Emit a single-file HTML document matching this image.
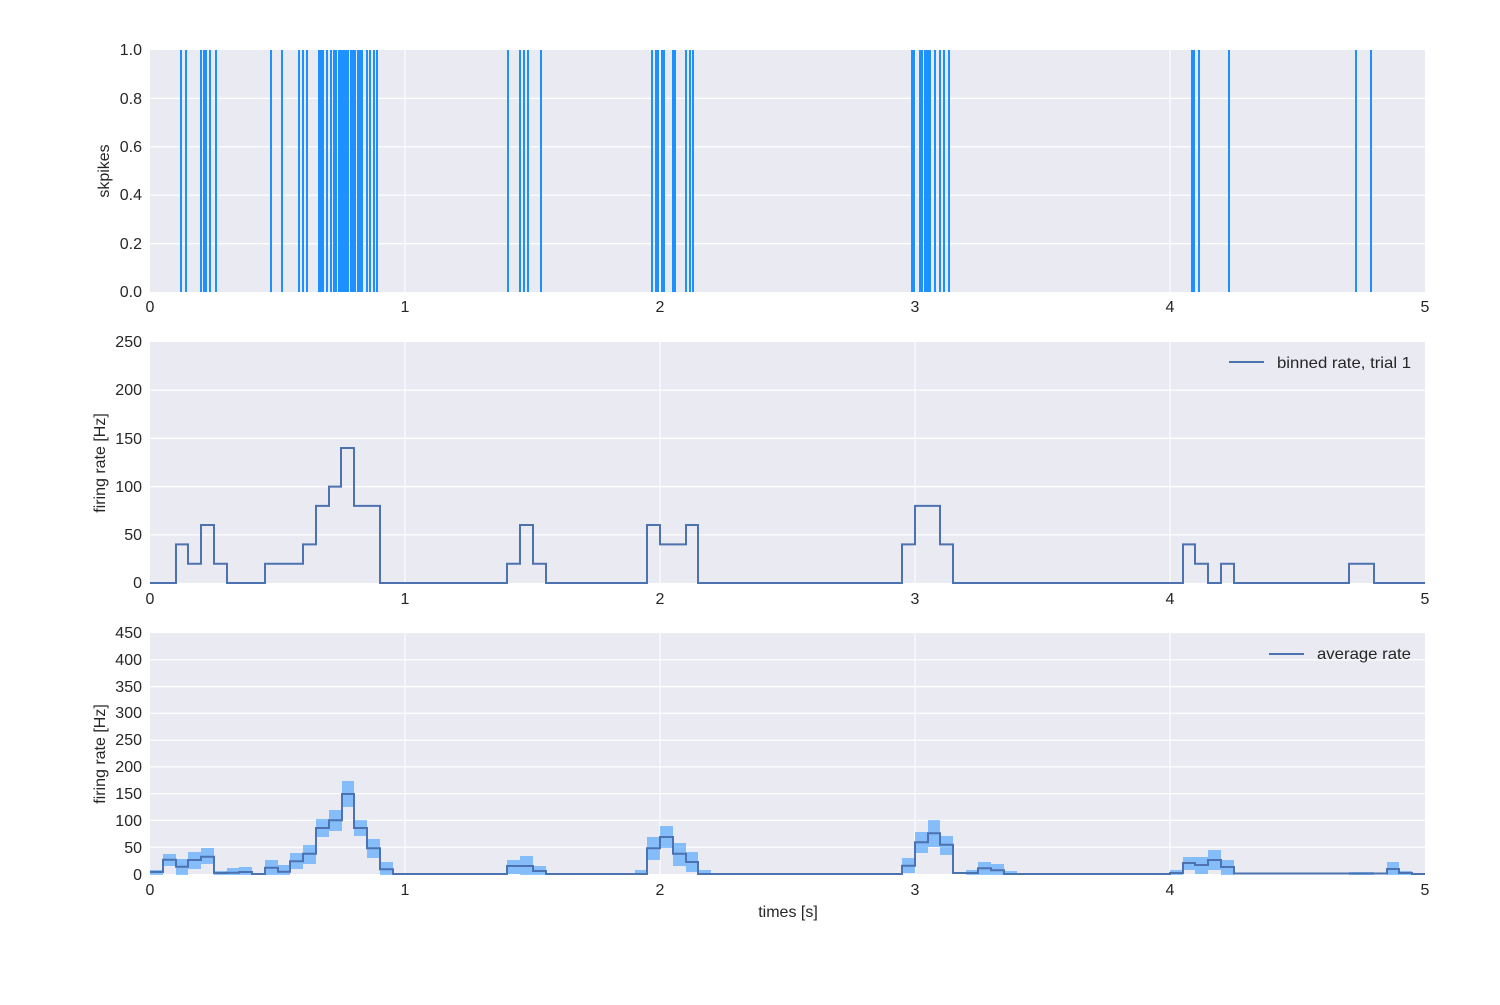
<!DOCTYPE html>
<html><head><meta charset="utf-8"><style>
body{margin:0;background:#fff}
svg text{font-family:"Liberation Sans",sans-serif;fill:#262626}
</style></head><body>
<svg width="1500" height="1000" viewBox="0 0 1500 1000" xmlns="http://www.w3.org/2000/svg">
<rect width="1500" height="1000" fill="#fff"/>
<!-- Panel 1 -->
<rect x="150" y="50" width="1275" height="242" fill="#eaeaf2"/>
<g stroke="#fff" stroke-width="1.2">
<line x1="150" x2="1425" y1="98.4" y2="98.4"/><line x1="150" x2="1425" y1="146.8" y2="146.8"/><line x1="150" x2="1425" y1="195.2" y2="195.2"/><line x1="150" x2="1425" y1="243.6" y2="243.6"/>
<line x1="405" x2="405" y1="50" y2="292"/><line x1="660" x2="660" y1="50" y2="292"/><line x1="915" x2="915" y1="50" y2="292"/><line x1="1170" x2="1170" y1="50" y2="292"/>
</g>
<g fill="#1e90ff">
<rect x="180" y="50" width="2" height="242"/><rect x="185" y="50" width="2" height="242"/>
<rect x="200" y="50" width="2" height="242"/><rect x="203" y="50" width="4" height="242"/><rect x="209" y="50" width="2" height="242"/><rect x="215" y="50" width="2" height="242"/>
<rect x="270" y="50" width="2" height="242"/><rect x="281" y="50" width="2" height="242"/><rect x="298" y="50" width="2" height="242"/><rect x="302" y="50" width="2" height="242"/><rect x="306" y="50" width="2" height="242"/>
<rect x="318" y="50" width="6" height="242"/><rect x="326" y="50" width="2" height="242"/><rect x="330" y="50" width="2" height="242"/><rect x="333" y="50" width="4" height="242"/><rect x="338" y="50" width="11" height="242"/><rect x="350" y="50" width="6" height="242"/><rect x="357" y="50" width="6" height="242"/><rect x="366" y="50" width="2" height="242"/><rect x="369" y="50" width="2" height="242"/><rect x="373" y="50" width="2" height="242"/><rect x="376" y="50" width="2" height="242"/>
<rect x="507" y="50" width="2" height="242"/><rect x="519" y="50" width="2" height="242"/><rect x="523" y="50" width="2" height="242"/><rect x="527" y="50" width="2" height="242"/><rect x="540" y="50" width="2" height="242"/>
<rect x="651" y="50" width="2" height="242"/><rect x="655" y="50" width="4" height="242"/><rect x="661" y="50" width="4" height="242"/><rect x="672" y="50" width="4" height="242"/><rect x="685" y="50" width="2" height="242"/><rect x="689" y="50" width="2" height="242"/><rect x="692" y="50" width="2" height="242"/>
<rect x="911" y="50" width="4" height="242"/><rect x="919" y="50" width="4" height="242"/><rect x="924" y="50" width="7" height="242"/><rect x="934" y="50" width="2" height="242"/><rect x="939" y="50" width="2" height="242"/><rect x="943" y="50" width="2" height="242"/><rect x="948" y="50" width="2" height="242"/>
<rect x="1191" y="50" width="4" height="242"/><rect x="1198" y="50" width="2" height="242"/><rect x="1228" y="50" width="2" height="242"/><rect x="1355" y="50" width="2" height="242"/><rect x="1370" y="50" width="2" height="242"/>
</g>
<g font-size="16" text-anchor="end">
<text x="142" y="55">1.0</text><text x="142" y="104">0.8</text><text x="142" y="152">0.6</text><text x="142" y="200">0.4</text><text x="142" y="249">0.2</text><text x="142" y="297">0.0</text>
</g>
<g font-size="16" text-anchor="middle">
<text x="150" y="312">0</text><text x="405" y="312">1</text><text x="660" y="312">2</text><text x="915" y="312">3</text><text x="1170" y="312">4</text><text x="1425" y="312">5</text>
</g>
<text font-size="16" transform="translate(109,171) rotate(-90)" text-anchor="middle">skpikes</text>

<!-- Panel 2 -->
<rect x="150" y="342" width="1275" height="241" fill="#eaeaf2"/>
<g stroke="#fff" stroke-width="1.2">
<line x1="150" x2="1425" y1="390.2" y2="390.2"/><line x1="150" x2="1425" y1="438.4" y2="438.4"/><line x1="150" x2="1425" y1="486.6" y2="486.6"/><line x1="150" x2="1425" y1="534.8" y2="534.8"/>
<line x1="405" x2="405" y1="342" y2="583"/><line x1="660" x2="660" y1="342" y2="583"/><line x1="915" x2="915" y1="342" y2="583"/><line x1="1170" x2="1170" y1="342" y2="583"/>
</g>
<path fill="none" stroke="#4c72b0" stroke-width="2" d="M150,583 H176 V544.4 H188 V563.7 H201 V525 H214 V563.7 H227 V583 H265 V563.7 H303 V544.4 H316 V505.9 H329 V486.6 H341 V448 H354 V505.9 H380 V583 H507 V563.7 H520 V525 H533 V563.7 H546 V583 H647 V525 H660 V544.4 H686 V525 H698 V583 H902 V544.4 H915 V505.9 H940 V544.4 H953 V583 H1183 V544.4 H1195 V563.7 H1208 V583 H1221 V563.7 H1234 V583 H1349 V563.7 H1374 V583 H1425"/>
<line x1="1229" x2="1264" y1="362" y2="362" stroke="#4c72b0" stroke-width="2"/>
<text x="1277" y="368" font-size="16" textLength="134" lengthAdjust="spacingAndGlyphs">binned rate, trial 1</text>
<g font-size="16" text-anchor="end">
<text x="142" y="347">250</text><text x="142" y="395">200</text><text x="142" y="444">150</text><text x="142" y="492">100</text><text x="142" y="540">50</text><text x="142" y="588">0</text>
</g>
<g font-size="16" text-anchor="middle">
<text x="150" y="604">0</text><text x="405" y="604">1</text><text x="660" y="604">2</text><text x="915" y="604">3</text><text x="1170" y="604">4</text><text x="1425" y="604">5</text>
</g>
<text font-size="16" transform="translate(105,463) rotate(-90)" text-anchor="middle">firing rate [Hz]</text>

<!-- Panel 3 -->
<rect x="150" y="633" width="1275" height="241" fill="#eaeaf2"/>
<g stroke="#fff" stroke-width="1.2">
<line x1="150" x2="1425" y1="659.8" y2="659.8"/><line x1="150" x2="1425" y1="686.6" y2="686.6"/><line x1="150" x2="1425" y1="713.3" y2="713.3"/><line x1="150" x2="1425" y1="740.1" y2="740.1"/><line x1="150" x2="1425" y1="766.9" y2="766.9"/><line x1="150" x2="1425" y1="793.7" y2="793.7"/><line x1="150" x2="1425" y1="820.4" y2="820.4"/><line x1="150" x2="1425" y1="847.2" y2="847.2"/>
<line x1="405" x2="405" y1="633" y2="874"/><line x1="660" x2="660" y1="633" y2="874"/><line x1="915" x2="915" y1="633" y2="874"/><line x1="1170" x2="1170" y1="633" y2="874"/>
</g>
<g fill="#1e90ff" fill-opacity="0.5">
<rect x="150" y="870" width="13" height="5"/><rect x="163" y="854" width="13" height="12"/><rect x="176" y="859" width="12" height="16"/><rect x="188" y="852" width="13" height="17"/><rect x="201" y="848" width="13" height="16"/><rect x="214" y="871" width="13" height="4"/><rect x="227" y="868" width="12" height="7"/><rect x="239" y="867" width="13" height="8"/>
<rect x="265" y="860" width="13" height="15"/><rect x="278" y="865" width="12" height="10"/><rect x="290" y="853" width="13" height="16"/><rect x="303" y="845" width="13" height="19"/><rect x="316" y="819" width="13" height="18"/><rect x="329" y="810" width="13" height="21"/><rect x="342" y="781" width="12" height="26"/><rect x="354" y="820" width="13" height="16"/><rect x="367" y="839" width="13" height="19"/><rect x="380" y="862" width="13" height="13"/>
<rect x="507" y="860" width="13" height="14"/><rect x="520" y="856" width="13" height="19"/><rect x="533" y="866" width="13" height="9"/>
<rect x="635" y="870" width="12" height="5"/><rect x="647" y="837" width="13" height="23"/><rect x="660" y="826" width="13" height="22"/><rect x="673" y="843" width="13" height="23"/><rect x="686" y="852" width="12" height="20"/><rect x="698" y="870" width="13" height="5"/>
<rect x="902" y="858" width="13" height="15"/><rect x="915" y="832" width="13" height="21"/><rect x="928" y="820" width="12" height="27"/><rect x="940" y="836" width="13" height="19"/><rect x="966" y="870" width="12" height="5"/><rect x="978" y="862" width="13" height="13"/><rect x="991" y="864" width="13" height="11"/><rect x="1004" y="871" width="13" height="4"/>
<rect x="1170" y="870" width="13" height="5"/><rect x="1183" y="857" width="12" height="13"/><rect x="1195" y="857" width="13" height="17"/><rect x="1208" y="850" width="13" height="20"/><rect x="1221" y="860" width="13" height="15"/>
<rect x="1349" y="872" width="25" height="3"/><rect x="1387" y="862" width="12" height="13"/><rect x="1399" y="871" width="13" height="4"/>
</g>
<path fill="none" stroke="#4c72b0" stroke-width="2" d="M150,872 H163 V859.7 H176 V866.7 H188 V860 H201 V856.7 H214 V873 H227 V872.7 H239 V872 H252 V874 H265 V867.7 H278 V871.7 H290 V861.3 H303 V853.7 H316 V828 H329 V820.3 H342 V794 H354 V828 H367 V848.3 H380 V869.3 H393 V874 H507 V866 H533 V871 H546 V874 H647 V848.3 H660 V837 H673 V853.7 H686 V862 H698 V874 H902 V865.7 H915 V842.3 H928 V833.3 H940 V844.7 H953 V873 H966 V873 H978 V868.3 H991 V870.3 H1004 V874 H1170 V873 H1183 V863 H1195 V865 H1208 V860 H1221 V867 H1234 V873.5 H1387 V869 H1399 V873 H1412 V874 H1425"/>
<line x1="1269" x2="1304" y1="654" y2="654" stroke="#4c72b0" stroke-width="2"/>
<text x="1317" y="659" font-size="16" textLength="94" lengthAdjust="spacingAndGlyphs">average rate</text>
<g font-size="16" text-anchor="end">
<text x="142" y="638">450</text><text x="142" y="665">400</text><text x="142" y="692">350</text><text x="142" y="718">300</text><text x="142" y="745">250</text><text x="142" y="772">200</text><text x="142" y="799">150</text><text x="142" y="826">100</text><text x="142" y="853">50</text><text x="142" y="880">0</text>
</g>
<g font-size="16" text-anchor="middle">
<text x="150" y="895">0</text><text x="405" y="895">1</text><text x="660" y="895">2</text><text x="915" y="895">3</text><text x="1170" y="895">4</text><text x="1425" y="895">5</text>
</g>
<text font-size="16" transform="translate(105,754) rotate(-90)" text-anchor="middle">firing rate [Hz]</text>
<text x="788" y="917" font-size="16" text-anchor="middle">times [s]</text>
</svg>
</body></html>
